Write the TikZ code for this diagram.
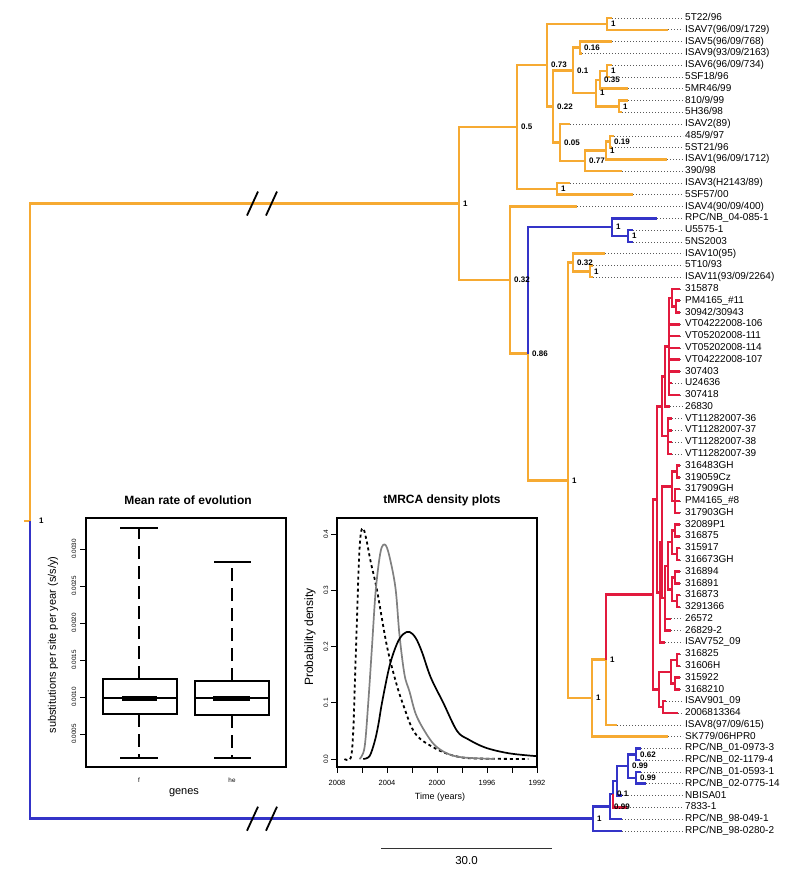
\documentclass[tikz,border=0pt]{standalone}
\usepackage{fontspec}
\setmainfont{Liberation Sans}
\usetikzlibrary{calc}

\definecolor{isaorange}{RGB}{246,170,50}
\definecolor{isablue}{RGB}{52,52,200}
\definecolor{isared}{RGB}{226,26,62}

% tree node: name, x, first child, last child
\newcommand{\mrca}[4]{%
  \path ($(#3)!0.5!(#4)$) coordinate (#1m);
  \coordinate (#1) at (#2,0 |- #1m);}

\tikzset{
  br/.style={line width=2.5pt},
  obr/.style={br, isaorange},
  bbr/.style={br, isablue},
  rbr/.style={br, isared},
  leader/.style={gray!70!black, line width=0.6pt, dash pattern=on 0.9pt off 2.1pt},
  tiplab/.style={anchor=west, inner sep=0pt, text height=7.2pt, text depth=2pt,
    font=\fontsize{10}{11}\selectfont},
  support/.style={anchor=west, inner sep=0pt, font=\fontsize{8}{9}\selectfont\bfseries},
  brk/.style={black, line width=1.8pt},
  frame/.style={black, line width=1.1pt},
  axisline/.style={black, line width=0.8pt},
  whisk/.style={black, line width=1.6pt, dash pattern=on 13pt off 7pt},
  capline/.style={black, line width=1.8pt},
  boxline/.style={black, line width=1.6pt},
  ticklab/.style={inner sep=0pt, font=\fontsize{6.3}{7}\selectfont},
  plottitle/.style={font=\fontsize{12}{14}\selectfont\bfseries},
  axislab/.style={inner sep=0pt, font=\fontsize{11}{13}\selectfont},
}

\begin{document}
\begin{tikzpicture}[x=1pt, y=-1pt]
\useasboundingbox (0,0) rectangle (785,870);

% taxa: index / tip x / name
\foreach \i/\tx/\lab in {1/612/{5T22/96}, 2/668/{ISAV7(96/09/1729)},
    3/612/{ISAV5(96/09/768)}, 4/582/{ISAV9(93/09/2163)}, 5/612/{ISAV6(96/09/734)},
    6/610/{5SF18/96}, 7/628/{5MR46/99}, 8/628/{810/9/99}, 9/622/{5H36/98},
    10/570/{ISAV2(89)}, 11/614/{485/9/97}, 12/612/{5ST21/96},
    13/667/{ISAV1(96/09/1712)}, 14/622/{390/98}, 15/570/{ISAV3(H2143/89)},
    16/633/{5SF57/00}, 17/577/{ISAV4(90/09/400)}, 18/657/{RPC/NB\_04-085-1},
    19/633/{U5575-1}, 20/633/{5NS2003}, 21/605/{ISAV10(95)}, 22/593/{5T10/93},
    23/593/{ISAV11(93/09/2264)}, 24/680/{315878}, 25/680/{PM4165\_\#11},
    26/680/{30942/30943}, 27/680/{VT04222008-106}, 28/680/{VT05202008-111},
    29/680/{VT05202008-114}, 30/680/{VT04222008-107}, 31/680/{307403},
    32/672/{U24636}, 33/680/{307418}, 34/670/{26830}, 35/672/{VT11282007-36},
    36/672/{VT11282007-37}, 37/672/{VT11282007-38}, 38/672/{VT11282007-39},
    39/680/{316483GH}, 40/680/{319059Cz}, 41/680/{317909GH}, 42/680/{PM4165\_\#8},
    43/680/{317903GH}, 44/680/{32089P1}, 45/680/{316875}, 46/680/{315917},
    47/680/{316673GH}, 48/680/{316894}, 49/680/{316891}, 50/680/{316873},
    51/680/{3291366}, 52/671/{26572}, 53/671/{26829-2}, 54/665/{ISAV752\_09},
    55/680/{316825}, 56/680/{31606H}, 57/680/{315922}, 58/680/{3168210},
    59/666/{ISAV901\_09}, 60/678/{2006813364}, 61/617/{ISAV8(97/09/615)},
    62/668/{SK779/06HPR0}, 63/641/{RPC/NB\_01-0973-3}, 64/640/{RPC/NB\_02-1179-4},
    65/641/{RPC/NB\_01-0593-1}, 66/646/{RPC/NB\_02-0775-14}, 67/622/{NBISA01},
    68/627/{7833-1}, 69/622/{RPC/NB\_98-049-1}, 70/622/{RPC/NB\_98-0280-2}} {
  \pgfmathsetmacro\yy{18+(\i-1)*11.78}
  \coordinate (L\i) at (\tx,\yy);
  \node[tiplab] (t\i) at (685,\yy) {\lab};
  \draw[leader] (L\i) -- ([xshift=-2pt]t\i.west);
}

% upper orange clade
\mrca{n1a}{607}{L1}{L2}
\mrca{n59}{580}{L3}{L4}
\mrca{n6}{607}{L5}{L6}
\mrca{nG}{600}{n6}{L7}
\mrca{n8}{619}{L8}{L9}
\mrca{nH}{596}{nG}{n8}
\mrca{nD}{573}{n59}{nH}
\mrca{nL}{610}{L11}{L12}
\mrca{nM}{606}{nL}{L13}
\mrca{nJ}{585}{nM}{L14}
\mrca{nE}{560}{L10}{nJ}
\mrca{nC}{553}{nD}{nE}
\mrca{nA}{547}{n1a}{nC}
\mrca{nI}{557}{L15}{L16}
\mrca{nK}{517}{nA}{nI}
% blue and orange middle
\mrca{nb1}{628}{L19}{L20}
\mrca{nb}{612}{L18}{nb1}
\mrca{np1}{590}{L22}{L23}
\mrca{np}{573}{L21}{np1}
% red clade
\mrca{a1}{676}{L25}{L26}
\mrca{a2}{672}{L24}{a1}
\mrca{b1}{669}{a2}{L33}
\mrca{b2}{665}{b1}{L34}
\mrca{b3}{668}{L35}{L38}
\mrca{b4}{662}{b2}{b3}
\mrca{c1}{677}{L39}{L40}
\mrca{c2}{675}{L41}{L43}
\mrca{c3}{672}{c1}{c2}
\mrca{c4}{675}{L44}{L45}
\mrca{c5}{677}{L46}{L47}
\mrca{c6}{672}{c4}{c5}
\mrca{c7}{675}{L48}{L49}
\mrca{c8}{677}{L50}{L51}
\mrca{c9}{672}{c7}{c8}
\mrca{c10}{668}{c6}{c9}
\mrca{c12}{665}{c10}{L53}
\mrca{c13}{662}{c3}{c12}
\mrca{c14}{660}{c13}{L54}
\mrca{nU}{657}{b4}{c14}
\mrca{w1}{677}{L55}{L56}
\mrca{w2}{675}{L57}{L58}
\mrca{nW}{671}{w1}{w2}
\mrca{nX}{663}{L59}{L60}
\mrca{nV}{659}{nW}{nX}
\mrca{nT}{653}{nU}{nV}
\mrca{nS}{606}{nT}{L61}
\mrca{nQ}{592}{nS}{L62}
\mrca{nR}{568}{np}{nQ}
\mrca{n86}{528}{nb}{nR}
\mrca{n32}{510}{L17}{n86}
\mrca{n1}{459}{nK}{n32}
% lower blue clade
\mrca{bq1}{636}{L63}{L64}
\mrca{bq2}{636}{L65}{L66}
\mrca{bY}{628}{bq1}{bq2}
\mrca{bP2}{617}{bY}{L67}
\mrca{bP1}{613}{bP2}{L68}
\mrca{bP0}{610}{bP1}{L69}
\mrca{bR}{593}{bP0}{L70}
\coordinate (root) at (30,521);

% branches
\draw[obr] (n1a) |- (L1) (n1a) |- (L2) (n59) |- (L3) (n59) |- (L4)
  (n6) |- (L5) (n6) |- (L6) (nG) |- (n6) (nG) |- (L7)
  (n8) |- (L8) (n8) |- (L9) (nH) |- (nG) (nH) |- (n8)
  (nD) |- (n59) (nD) |- (nH) (nL) |- (L11) (nL) |- (L12)
  (nM) |- (nL) (nM) |- (L13) (nJ) |- (nM) (nJ) |- (L14)
  (nE) |- (L10) (nE) |- (nJ) (nC) |- (nD) (nC) |- (nE)
  (nA) |- (n1a) (nA) |- (nC) (nI) |- (L15) (nI) |- (L16)
  (nK) |- (nA) (nK) |- (nI) (n1) |- (nK) (n1) |- (n32)
  (n32) |- (L17) (n32) |- (n86) (n86) |- (nR)
  (np1) |- (L22) (np1) |- (L23) (np) |- (L21) (np) |- (np1)
  (nR) |- (np) (nR) |- (nQ) (nQ) |- (nS) (nQ) |- (L62) (nS) |- (L61);
\draw[bbr] (nb1) |- (L19) (nb1) |- (L20) (nb) |- (L18) (nb) |- (nb1)
  (n86) |- (nb);
\draw[rbr] (a1) |- (L25) (a1) |- (L26) (a2) |- (L24) (a2) |- (a1)
  (b1) |- (a2) (b2) |- (b1) (b2) |- (L34) (b4) |- (b2) (b4) |- (b3)
  (c1) |- (L39) (c1) |- (L40) (c3) |- (c1) (c3) |- (c2)
  (c4) |- (L44) (c4) |- (L45) (c5) |- (L46) (c5) |- (L47)
  (c6) |- (c4) (c6) |- (c5) (c7) |- (L48) (c7) |- (L49)
  (c8) |- (L50) (c8) |- (L51) (c9) |- (c7) (c9) |- (c8)
  (c10) |- (c6) (c10) |- (c9) (c12) |- (c10) (c12) |- (L52) (c12) |- (L53)
  (c13) |- (c3) (c13) |- (c12) (c14) |- (c13) (c14) |- (L54)
  (nU) |- (b4) (nU) |- (c14) (w1) |- (L55) (w1) |- (L56)
  (w2) |- (L57) (w2) |- (L58) (nW) |- (w1) (nW) |- (w2)
  (nX) |- (L59) (nX) |- (L60) (nV) |- (nW) (nV) |- (nX)
  (nT) |- (nU) (nT) |- (nV) (nS) |- (nT);
\foreach \k in {27,...,33} \draw[rbr] (b1) |- (L\k);
\foreach \k in {35,...,38} \draw[rbr] (b3) |- (L\k);
\foreach \k in {41,42,43} \draw[rbr] (c2) |- (L\k);
\draw[bbr] (bq1) |- (L63) (bq1) |- (L64) (bq2) |- (L65) (bq2) |- (L66)
  (bY) |- (bq1) (bY) |- (bq2) (bP2) |- (bY) (bP2) |- (L67)
  (bP1) |- (bP2) (bP0) |- (bP1) (bP0) |- (L69) (bR) |- (bP0) (bR) |- (L70);
\draw[rbr] (bP1) |- (L68);

% root
\draw[obr] (root) |- (n1) (root) -- ++(-6,0);
\draw[bbr] (root) |- (bR);
\coordinate (brkO) at (262,0 |- n1);
\coordinate (brkB) at (262,0 |- bR);
\foreach \c in {brkO,brkB}
  \foreach \dx in {-9.5,9.5}
    \draw[brk] ([xshift=\dx pt-5.5pt,yshift=-12pt]\c) -- ([xshift=\dx pt+5.5pt,yshift=12pt]\c);

% support values
\foreach \n/\v in {n1a/1, n59/0.16, n6/1, nG/0.35, n8/1, nH/1, nD/0.1, nL/0.19,
    nM/1, nJ/0.77, nE/0.05, nC/0.22, nA/0.73, nI/1, nK/0.5, n1/1, n32/0.32,
    n86/0.86, nb/1, nb1/1, np/0.32, np1/1, nR/1, nQ/1, nS/1, bq1/0.62, bq2/0.99,
    bY/0.99, bP1/0.1, bP0/0.99, bR/1}
  \node[support] (s-\n) at ([xshift=4pt]\n) {\v};
\node[support] (s-root) at ([xshift=9pt]root) {1};

% inset: rate box plot
\node[plottitle] (ratetitle) at (188,500) {Mean rate of evolution};
\draw[frame] (86,518) rectangle (286,767);
\foreach \v/\lab in {734/0.0005, 697/0.0010, 660/0.0015, 623/0.0020, 586/0.0025, 549/0.0030} {
  \draw[axisline] (80,\v) -- (86,\v);
  \node[ticklab, rotate=90] (ry\v) at (74,\v) {\lab};
}
\draw[whisk] (139,679) -- (139,528);
\draw[whisk] (139,714) -- (139,758);
\draw[capline] (120,528) -- (158,528) (120,758) -- (158,758);
\draw[boxline] (103,679) rectangle (177,714) (103,698) -- (177,698);
\fill (122,695.5) rectangle (157,700.5);
\draw[whisk] (232,681) -- (232,562);
\draw[whisk] (232,715) -- (232,758);
\draw[capline] (214,562) -- (251,562) (214,758) -- (251,758);
\draw[boxline] (195,681) rectangle (269,715) (195,698) -- (269,698);
\fill (213,695.5) rectangle (250,700.5);
\node[ticklab] (gf) at (139,780) {f};
\node[ticklab] (ghe) at (232,780) {he};
\node[axislab] (genes) at (184,793) {genes};
\node[axislab, rotate=90] (ratey) at (53,645) {substitutions per site per year (s/s/y)};

% inset: tMRCA densities
\node[plottitle] (tmrcatitle) at (442,500) {tMRCA density plots};
\draw[frame] (337,518) rectangle (537,767);
\foreach \d in {0,1,2,3,4} {
  \draw[axisline] (331,759-\d*56.25) -- (337,759-\d*56.25);
  \node[ticklab, rotate=90, font=\fontsize{6.5}{7}\selectfont] (dy\d) at (326,759-\d*56.25) {0.\d};
}
\foreach \k in {0,2,...,16}
  \draw[axisline] ({337+12.5*\k},767) -- ({337+12.5*\k},773);
\foreach \k/\yr in {0/2008, 4/2004, 8/2000, 12/1996, 16/1992}
  \node[ticklab, font=\fontsize{7.5}{8}\selectfont] (yr\yr) at ({337+12.5*\k},783) {\yr};
\node[inner sep=0pt, font=\fontsize{9}{10}\selectfont] (timelab) at (440,797) {Time (years)};
\node[inner sep=0pt, font=\fontsize{12}{13}\selectfont, rotate=90] (densy) at (310,637) {Probability density};
\begin{scope}[shift={(337pt,-759pt)}, x=12.5pt, y=562.5pt]
  \draw[black, line width=1.8pt, dash pattern=on 3pt off 3pt] plot[smooth, tension=0.55] coordinates {
    (0.6,0) (1.1,0.002) (1.3,0.05) (1.45,0.15) (1.6,0.25) (1.75,0.35) (1.9,0.4)
    (2.1,0.41) (2.35,0.39) (2.7,0.35) (3.2,0.3) (4.0,0.2) (4.8,0.13) (5.4,0.09)
    (6.0,0.055) (6.7,0.035) (8.2,0.015) (9.5,0.005) (11,0.001) (15.3,0)};
  \draw[black!50, line width=1.7pt] plot[smooth, tension=0.55] coordinates {
    (1.8,0) (2.2,0.02) (2.5,0.1) (2.8,0.2) (3.1,0.3) (3.5,0.37) (3.9,0.38)
    (4.3,0.35) (4.7,0.3) (5.0,0.22) (5.4,0.15) (5.8,0.12) (6.3,0.08) (7.0,0.05)
    (7.8,0.025) (8.8,0.01) (10,0.003) (12.6,0)};
  \draw[black, line width=1.7pt] plot[smooth, tension=0.55] coordinates {
    (2.1,0) (2.6,0.005) (3.0,0.03) (3.3,0.06) (3.6,0.1) (4.2,0.165) (4.8,0.205)
    (5.3,0.222) (5.8,0.226) (6.3,0.215) (6.8,0.19) (7.5,0.145) (8.5,0.1)
    (9.6,0.05) (10.5,0.035) (11.9,0.02) (13.8,0.01) (16,0.005)};
\end{scope}

% scale bar
\coordinate (sbL) at (381,848);
\coordinate (sbR) at (552,848);
\draw[gray!40!black, line width=1pt] (sbL) -- (sbR);
\node[font=\fontsize{11.5}{13}\selectfont] (sblab) at (466.5,861) {30.0};
\end{tikzpicture}
\end{document}
